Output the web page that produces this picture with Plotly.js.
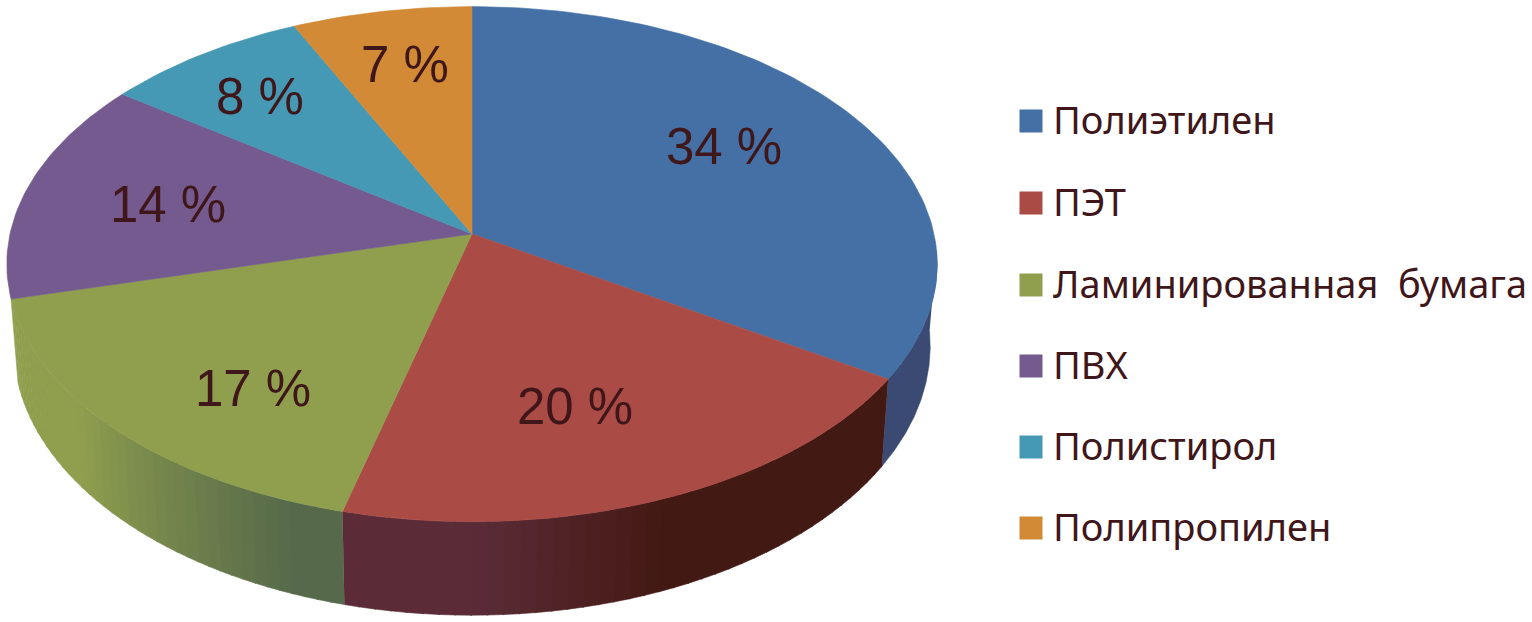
<!DOCTYPE html>
<html>
<head>
<meta charset="utf-8">
<script src="https://cdn.plot.ly/plotly-3.0.1.min.js"></script>
<style>html,body{margin:0;padding:0;background:#fff}#chart{width:1532px;height:622px}</style>
</head>
<body>
<div id="chart"></div>
<script>
// --- data ---
const categories = ['Полиэтилен', 'ПЭТ', 'Ламинированная  бумага', 'ПВХ', 'Полистирол', 'Полипропилен'];
const shares = [34, 20, 17, 14, 8, 7];

// --- styles ---
const topColors = ['#4470a5', '#ab4b45', '#8f9f4e', '#745a8e', '#4599b4', '#d38a36'];
const sideColorFrom = ['#3a4a72', '#431914', '#56694a', '#745a8e', '#4599b4', '#d38a36'];
const sideColorTo   = ['#3a4a72', '#5b2c37', '#8f9f4e', '#745a8e', '#4599b4', '#d38a36'];
const sideRampStart = [0, 0.5, 0.09, 0, 0, 0];
const sideRampEnd   = [1, 0.8, 0.62, 1, 1, 1];
const textColor = '#3f1619';
const labelAnchorX = [724, 575, 253, 168, 260, 405];
const labelAnchorY = [151, 411, 393, 209, 101, 69];
const legendSwatchX = 1031;
const legendTextX = 1053;
const legendRowY = [121, 203, 285, 366, 447, 528];
const legendTextDY = 3;

// --- perspective pie projection ---
const apexX = 472, apexY = 234, radX = 462, radY = 254, persp = 0.117;
const baseDrop = 80.6, baseScaleX = 0.985, baseScaleY = 1.045;
function rim(frac, drop, sx, sy) {
  const t = 2 * Math.PI * frac, s = Math.sin(t), c = Math.cos(t), d = 1 + persp * c;
  return [apexX + sx * radX * s / d, apexY + drop - sy * radY * c / d];
}
function hexMix(a, b, k) {
  const p = h => [1, 3, 5].map(i => parseInt(h.substr(i, 2), 16));
  const A = p(a), B = p(b);
  return 'rgb(' + A.map((v, i) => Math.round(v + (B[i] - v) * k)).join(',') + ')';
}

const total = shares.reduce((a, b) => a + b, 0);
const edges = [0];
shares.forEach(v => edges.push(edges[edges.length - 1] + v / total));

const traces = [];
function poly(xs, ys, color) {
  traces.push({type: 'scatter', mode: 'lines', x: xs, y: ys, fill: 'toself', fillcolor: color,
    line: {width: 0.6, color: color}, hoverinfo: 'skip', showlegend: false});
}

// side wall: visible part of the rim, split into strips for the shading
const sideStart = 0.26, sideEnd = 0.71;
shares.forEach((v, i) => {
  const a = Math.max(edges[i], sideStart), b = Math.min(edges[i + 1], sideEnd);
  if (b <= a) return;
  const strips = sideColorFrom[i] === sideColorTo[i] ? 1 : 40;
  for (let k = 0; k < strips; k++) {
    const f0 = a + (b - a) * k / strips, f1 = a + (b - a) * (k + 1) / strips + (k < strips - 1 ? 0.0005 : 0);
    const xs = [], ys = [], bx = [], by = [];
    for (let j = 0; j <= 8; j++) {
      const f = f0 + (f1 - f0) * j / 8;
      const p = rim(f, 0, 1, 1), q = rim(f, baseDrop, baseScaleX, baseScaleY);
      xs.push(p[0]); ys.push(p[1]); bx.unshift(q[0]); by.unshift(q[1]);
    }
    const u = (k + 0.5) / strips;
    const w = Math.min(1, Math.max(0, (u - sideRampStart[i]) / (sideRampEnd[i] - sideRampStart[i])));
    poly(xs.concat(bx), ys.concat(by), hexMix(sideColorFrom[i], sideColorTo[i], w));
  }
});

// top face
shares.forEach((v, i) => {
  const xs = [apexX], ys = [apexY];
  const n = Math.ceil((edges[i + 1] - edges[i]) * 300);
  for (let j = 0; j <= n; j++) {
    const p = rim(edges[i] + (edges[i + 1] - edges[i]) * j / n, 0, 1, 1);
    xs.push(p[0]); ys.push(p[1]);
  }
  xs.push(apexX); ys.push(apexY);
  traces.push({type: 'scatter', mode: 'lines', name: categories[i], x: xs, y: ys, fill: 'toself',
    fillcolor: topColors[i], line: {width: 0.6, color: topColors[i]}, hoverinfo: 'skip', showlegend: false});
});

// value labels
traces.push({type: 'scatter', mode: 'text', x: labelAnchorX, y: labelAnchorY,
  text: shares.map(v => v + ' %'), textposition: 'middle center',
  textfont: {family: '"Liberation Sans", Arial, sans-serif', size: 51, color: textColor},
  hoverinfo: 'skip', showlegend: false});

// legend
categories.forEach((c, i) => {
  traces.push({type: 'scatter', mode: 'markers', name: c, x: [legendSwatchX], y: [legendRowY[i]],
    marker: {symbol: 'square', size: 23, color: topColors[i]}, hoverinfo: 'skip', showlegend: false});
  traces.push({type: 'scatter', mode: 'text', name: c, x: [legendTextX], y: [legendRowY[i] + legendTextDY],
    text: [c], textposition: 'middle right',
    textfont: {family: '"Noto Sans", sans-serif', size: 38, color: textColor},
    hoverinfo: 'skip', showlegend: false});
});

const layout = {
  width: 1532, height: 622, margin: {l: 0, r: 0, t: 0, b: 0},
  paper_bgcolor: '#ffffff', plot_bgcolor: '#ffffff', showlegend: false,
  xaxis: {range: [0, 1532], visible: false, fixedrange: true},
  yaxis: {range: [622, 0], visible: false, fixedrange: true}
};
Plotly.newPlot('chart', traces, layout, {displayModeBar: false, staticPlot: true});
</script>
</body>
</html>
